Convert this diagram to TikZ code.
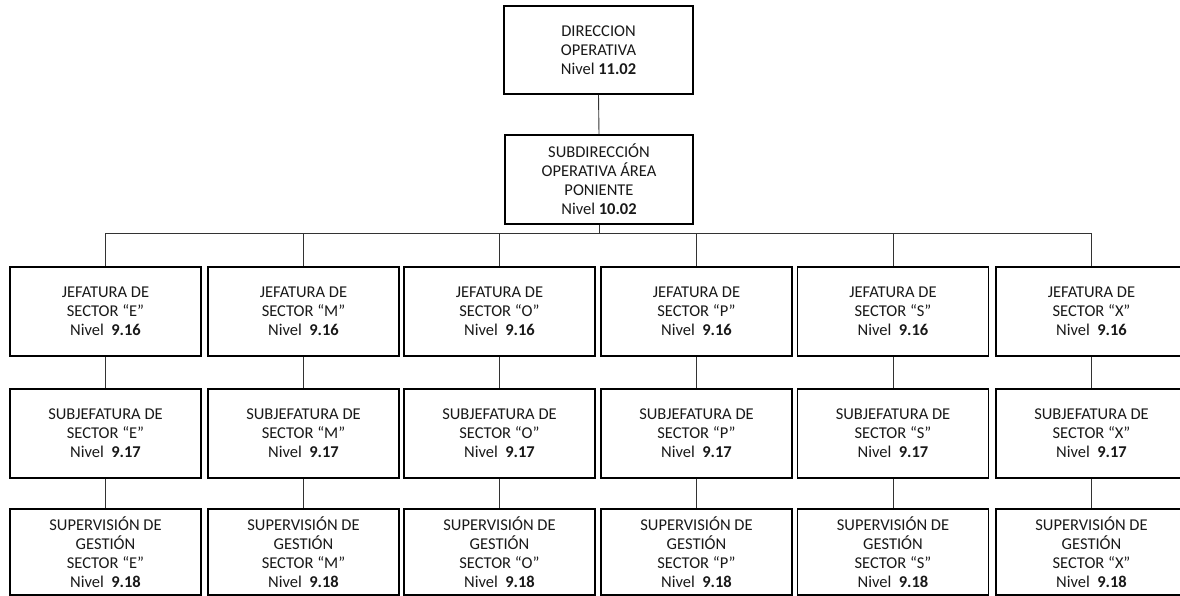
\documentclass[tikz,border=0pt]{standalone}
\usepackage{fontspec}
\setmainfont{Carlito}
\begin{document}
\begin{tikzpicture}[x=1pt,y=-1pt,
  box/.style={draw=black, line width=1.7pt, fill=white, align=center, inner sep=2pt,
    font=\fontsize{16.5}{19}\selectfont, text=black!90},
  link/.style={draw=black!80, line width=0.9pt}]
\clip (0,0) rectangle (1180,596);
\fill[white] (0,0) rectangle (1180,596);
\node[box, minimum width=189pt, minimum height=88pt] (dir) at (598.5,50)
  {DIRECCION\\OPERATIVA\\Nivel \textbf{11.02}};
\node[box, minimum width=188pt, minimum height=89pt] (sub) at (599,179.5)
  {SUBDIRECCIÓN\\OPERATIVA ÁREA\\PONIENTE\\Nivel \textbf{10.02}};
\draw[link] (dir.south) -- (sub.north);
\coordinate (bus) at (599,233);
\draw[link] (sub.south) -- (bus);
\foreach \i/\L/\cx in {1/E/105.5, 2/M/303.5, 3/O/499.5, 4/P/696.5, 5/S/893, 6/X/1091.5}{
  \node[box, minimum width=191pt, minimum height=89pt] (j\i) at (\cx,311.5)
    {JEFATURA DE\\SECTOR “\L”\\Nivel~ \textbf{9.16}};
  \node[box, minimum width=191pt, minimum height=89pt] (s\i) at (\cx,433.5)
    {SUBJEFATURA DE\\SECTOR “\L”\\Nivel~ \textbf{9.17}};
  \node[box, minimum width=191pt, minimum height=86pt] (g\i) at (\cx,552)
    {SUPERVISIÓN DE\\GESTIÓN\\SECTOR “\L”\\Nivel~ \textbf{9.18}};
  \draw[link] (j\i.north |- bus) -- (j\i.north);
  \draw[link] (j\i.south) -- (s\i.north);
  \draw[link] (s\i.south) -- (g\i.north);
}
\draw[link] (j1.north |- bus) -- (j6.north |- bus);
\end{tikzpicture}
\end{document}
